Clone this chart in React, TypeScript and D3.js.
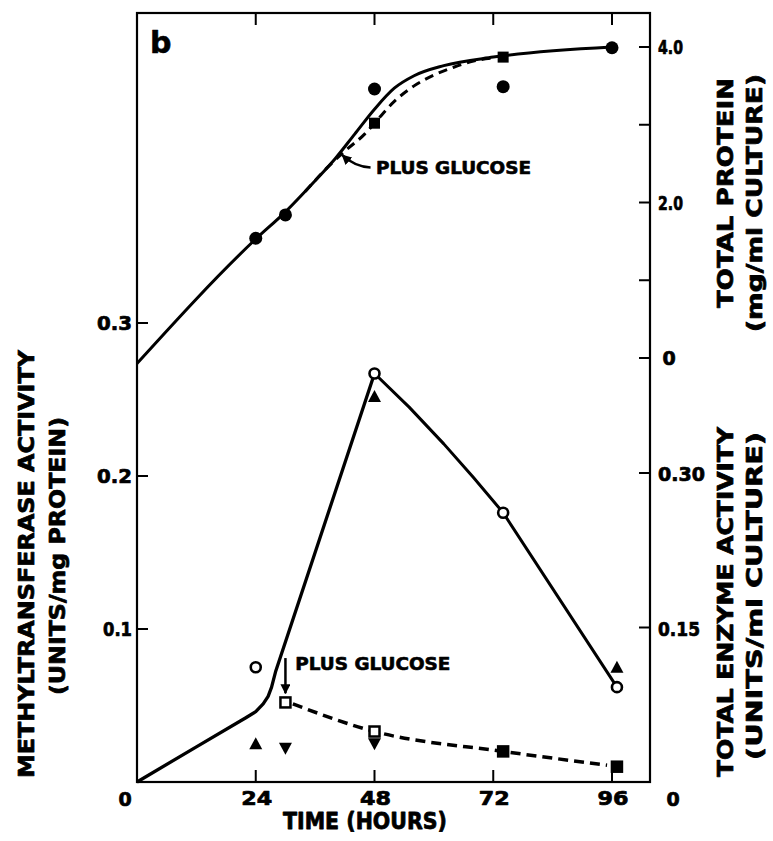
import React from "react";
import * as d3 from "d3";

// ---------- data ----------
const xTickValues = [24, 48, 72, 96];
const xTickLabels = ["24", "48", "72", "96"];

const leftTickValues = [0.1, 0.2, 0.3];
const leftTickLabels = ["0.1", "0.2", "0.3"];

const proteinTickValues = [0, 1, 2, 3, 4];
const proteinTickLabels = ["0", "", "2.0", "", "4.0"];

const enzymeTickValues = [0.15, 0.3];
const enzymeTickLabels = ["0.15", "0.30"];

// total protein (mg/ml culture)
const proteinCurveHours = [0, 24, 30, 36, 40, 44, 48, 52, 56, 62, 72, 96];
const proteinCurveValues = [-0.07, 1.53, 1.88, 2.28, 2.56, 2.88, 3.2, 3.47, 3.63, 3.76, 3.87, 4.0];
const glucoseProteinHours = [34, 38, 42, 46, 48, 52, 56, 60, 64, 68, 72];
const glucoseProteinValues = [2.14, 2.42, 2.66, 2.88, 3.02, 3.3, 3.5, 3.64, 3.74, 3.82, 3.86];
const proteinDotHours = [24, 30, 48, 74, 96];
const proteinDotValues = [1.54, 1.84, 3.46, 3.49, 3.99];
const proteinSquareHours = [48, 74];
const proteinSquareValues = [3.02, 3.87];

// methyltransferase activity (units/mg protein)
const activityRiseHours = [0, 12, 22, 24, 25.5, 26.5, 27.2, 28, 48];
const activityRiseValues = [0, 0.023, 0.042, 0.046, 0.051, 0.056, 0.062, 0.072, 0.267];
const activityFallHours = [48, 55, 62, 68, 74, 97];
const activityFallValues = [0.267, 0.245, 0.221, 0.199, 0.176, 0.062];
const openCircleHours = [24, 48, 74, 97];
const openCircleValues = [0.075, 0.267, 0.176, 0.062];
const upTriangleHours = [24, 48, 97];
const upTriangleValues = [0.025, 0.252, 0.075];
const downTriangleHours = [30, 48];
const downTriangleValues = [0.022, 0.025];
const glucoseSquareHours = [30, 48, 74, 97];
const glucoseSquareValues = [0.052, 0.033, 0.02, 0.01];
const glucoseSquareFilled = [false, false, true, true];
const glucoseLineHours = [31.5, 48, 74, 95];
const glucoseLineValues = [0.051, 0.033, 0.02, 0.011];

// ---------- layout ----------
const W = 773;
const H = 841;
const frame = { left: 137, right: 650, top: 13, bottom: 782 };
const FONT = "'DejaVu Sans', 'Liberation Sans', sans-serif";

const x = d3.scaleLinear().domain([0, 96]).range([137, 612]);
const yLeft = d3.scaleLinear().domain([0, 0.3]).range([782, 323]);
const yProt = d3.scaleLinear().domain([0, 4]).range([358, 47]);
const yEnz = d3.scaleLinear().domain([0, 0.3]).range([782, 473]);

const zip = (a: number[], b: number[]) => a.map((v, i) => [v, b[i]] as [number, number]);

const protLine = d3
  .line<[number, number]>()
  .x((d) => x(d[0]))
  .y((d) => yProt(d[1]))
  .curve(d3.curveMonotoneX);
const actLine = d3
  .line<[number, number]>()
  .x((d) => x(d[0]))
  .y((d) => yLeft(d[1]))
  .curve(d3.curveLinear);
const glucoseLine = d3
  .line<[number, number]>()
  .x((d) => x(d[0]))
  .y((d) => yLeft(d[1]))
  .curve(d3.curveMonotoneX);

function T(props: {
  x: number;
  y: number;
  size: number;
  len?: number;
  anchor?: string;
  rotate?: boolean;
  sw?: number;
  children: string;
}) {
  const { x: tx, y: ty, size, len, anchor = "start", rotate, sw = 0.7, children } = props;
  return (
    <text
      x={rotate ? 0 : tx}
      y={rotate ? 0 : ty}
      transform={rotate ? `translate(${tx},${ty}) rotate(-90)` : undefined}
      fontFamily={FONT}
      fontWeight="bold"
      fontSize={size}
      textAnchor={anchor}
      textLength={len}
      lengthAdjust={len ? "spacingAndGlyphs" : undefined}
      fill="#000"
      stroke="#000"
      strokeWidth={sw}
      strokeLinejoin="round"
    >
      {children}
    </text>
  );
}

export default function App() {
  const tri = (cx: number, cy: number, up: boolean) => {
    const s = 6.5;
    return up
      ? `M${cx},${cy - s}L${cx + s},${cy + s * 0.85}L${cx - s},${cy + s * 0.85}Z`
      : `M${cx},${cy + s}L${cx + s},${cy - s * 0.85}L${cx - s},${cy - s * 0.85}Z`;
  };

  // annotation anchors from data coordinates
  const topTipX = x(41.5);
  const topTipY = yProt(2.61);
  const topStartX = x(47.2);
  const topStartY = yProt(2.45);
  const lowArrowX = x(30);
  const lowArrowTop = yLeft(0.081);
  const lowArrowBot = yLeft(0.058);

  return (
    <svg
      width={W}
      height={H}
      style={{ position: "absolute", left: 0, top: 0, background: "#fff" }}
    >
      <defs>
        <marker
          id="ah"
          viewBox="0 0 10 10"
          refX="9"
          refY="5"
          markerWidth="4"
          markerHeight="4"
          orient="auto"
          markerUnits="strokeWidth"
        >
          <path d="M0,0L10,5L0,10Z" fill="#000" />
        </marker>
      </defs>
      <rect x={0} y={0} width={W} height={H} fill="#fff" />

      {/* frame */}
      <rect
        x={frame.left}
        y={frame.top}
        width={frame.right - frame.left}
        height={frame.bottom - frame.top}
        fill="none"
        stroke="#000"
        strokeWidth={2.2}
      />

      {/* x ticks top & bottom */}
      {xTickValues.map((v, i) => (
        <g key={"xt" + i}>
          <line x1={x(v)} x2={x(v)} y1={frame.top} y2={frame.top + 12} stroke="#000" strokeWidth={2} />
          <line x1={x(v)} x2={x(v)} y1={frame.bottom} y2={frame.bottom - 12} stroke="#000" strokeWidth={2} />
          <T x={x(v) + 1} y={805} size={19} len={31} anchor="middle">
            {xTickLabels[i]}
          </T>
        </g>
      ))}
      <T x={125} y={806} size={19} anchor="middle">
        0
      </T>
      <T x={365} y={829} size={23} len={164} anchor="middle" sw={0.8}>
        TIME (HOURS)
      </T>

      {/* left axis */}
      {leftTickValues.map((v, i) => (
        <g key={"lt" + i}>
          <line x1={frame.left} x2={frame.left + 11} y1={yLeft(v)} y2={yLeft(v)} stroke="#000" strokeWidth={2} />
          <T x={132} y={yLeft(v) + 7} size={19} len={leftTickLabels[i] === "0.1" ? 29 : 35} anchor="end">
            {leftTickLabels[i]}
          </T>
        </g>
      ))}

      {/* right axis: protein */}
      {proteinTickValues.map((v, i) => (
        <g key={"pt" + i}>
          <line x1={frame.right} x2={frame.right - 11} y1={yProt(v)} y2={yProt(v)} stroke="#000" strokeWidth={2} />
          {proteinTickLabels[i] !== "" && (
            <T
              x={proteinTickLabels[i] === "0" ? 669 : 658}
              y={yProt(v) + 7}
              size={19}
              len={proteinTickLabels[i] === "0" ? undefined : 25}
              anchor={proteinTickLabels[i] === "0" ? "middle" : "start"}
            >
              {proteinTickLabels[i]}
            </T>
          )}
        </g>
      ))}

      {/* right axis: enzyme */}
      {enzymeTickValues.map((v, i) => (
        <g key={"et" + i}>
          <line x1={frame.right} x2={frame.right - 11} y1={yEnz(v)} y2={yEnz(v)} stroke="#000" strokeWidth={2} />
          <T x={658} y={yEnz(v) + 8} size={19} len={enzymeTickLabels[i] === "0.30" ? 47 : 42}>
            {enzymeTickLabels[i]}
          </T>
        </g>
      ))}
      <T x={673} y={806} size={19} anchor="middle">
        0
      </T>

      {/* axis titles */}
      <T x={34} y={564} size={21} len={428} anchor="middle" rotate>
        METHYLTRANSFERASE ACTIVITY
      </T>
      <T x={65} y={556} size={21} len={278} anchor="middle" rotate>
        (UNITS/mg PROTEIN)
      </T>
      <T x={733} y={193} size={21} len={230} anchor="middle" rotate>
        TOTAL PROTEIN
      </T>
      <T x={762} y={203} size={21} len={258} anchor="middle" rotate>
        (mg/ml CULTURE)
      </T>
      <T x={733} y={602} size={21} len={350} anchor="middle" rotate>
        TOTAL ENZYME ACTIVITY
      </T>
      <T x={762} y={596} size={21} len={328} anchor="middle" rotate>
        (UNITS/ml CULTURE)
      </T>

      <T x={150} y={53} size={30} sw={0.6}>
        b
      </T>

      {/* protein curves */}
      <path d={protLine(zip(proteinCurveHours, proteinCurveValues)) || ""} fill="none" stroke="#000" strokeWidth={3} />
      <path
        d={protLine(zip(glucoseProteinHours, glucoseProteinValues)) || ""}
        fill="none"
        stroke="#000"
        strokeWidth={3}
        strokeDasharray="9 6"
      />
      {proteinDotHours.map((h, i) => (
        <circle key={"pd" + i} cx={x(h)} cy={yProt(proteinDotValues[i])} r={6.5} fill="#000" />
      ))}
      {proteinSquareHours.map((h, i) => (
        <rect
          key={"ps" + i}
          x={x(h) - 5.5}
          y={yProt(proteinSquareValues[i]) - 5.5}
          width={11}
          height={11}
          fill="#000"
        />
      ))}

      {/* top annotation */}
      <path
        d={`M${topStartX},${topStartY} Q${topStartX - 16},${topStartY - 1} ${topTipX},${topTipY}`}
        fill="none"
        stroke="#000"
        strokeWidth={2.5}
        markerEnd="url(#ah)"
      />
      <T x={x(48.3)} y={yProt(2.37)} size={17} len={155} sw={0.6}>
        PLUS GLUCOSE
      </T>

      {/* activity curves */}
      <path
        d={actLine(zip(activityRiseHours, activityRiseValues)) || ""}
        fill="none"
        stroke="#000"
        strokeWidth={3.3}
        strokeLinejoin="round"
      />
      <path
        d={actLine(zip(activityFallHours, activityFallValues)) || ""}
        fill="none"
        stroke="#000"
        strokeWidth={3}
        strokeLinejoin="round"
      />
      <path
        d={glucoseLine(zip(glucoseLineHours, glucoseLineValues)) || ""}
        fill="none"
        stroke="#000"
        strokeWidth={3.5}
        strokeDasharray="10 6"
      />

      {openCircleHours.map((h, i) => (
        <circle
          key={"oc" + i}
          cx={x(h)}
          cy={yLeft(openCircleValues[i])}
          r={5}
          fill="#fff"
          stroke="#000"
          strokeWidth={2.6}
        />
      ))}
      {upTriangleHours.map((h, i) => (
        <path key={"ut" + i} d={tri(x(h), yLeft(upTriangleValues[i]), true)} fill="#000" />
      ))}
      {downTriangleHours.map((h, i) => (
        <path key={"dt" + i} d={tri(x(h), yLeft(downTriangleValues[i]), false)} fill="#000" />
      ))}
      {glucoseSquareHours.map((h, i) => (
        <rect
          key={"gs" + i}
          x={x(h) - 5}
          y={yLeft(glucoseSquareValues[i]) - 5}
          width={10}
          height={10}
          fill={glucoseSquareFilled[i] ? "#000" : "#fff"}
          stroke="#000"
          strokeWidth={2.5}
        />
      ))}

      {/* lower annotation */}
      <line
        x1={lowArrowX}
        x2={lowArrowX}
        y1={lowArrowTop}
        y2={lowArrowBot}
        stroke="#000"
        strokeWidth={2.5}
        markerEnd="url(#ah)"
      />
      <T x={x(32)} y={yLeft(0.073)} size={17} len={155} sw={0.6}>
        PLUS GLUCOSE
      </T>
    </svg>
  );
}
